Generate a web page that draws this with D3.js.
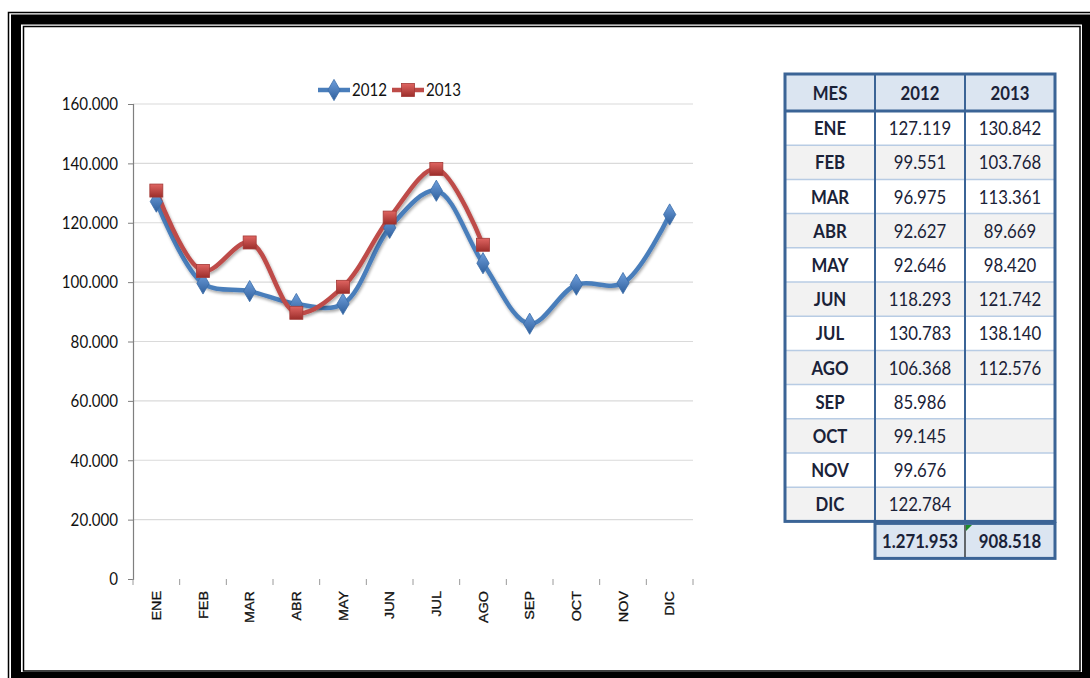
<!DOCTYPE html>
<html>
<head>
<meta charset="utf-8">
<script src="https://cdn.jsdelivr.net/npm/d3@7"></script>
<style>
  body { margin: 0; background: #fff; }
  svg { display: block; }
  .narrow { font-family: Lato, "Open Sans", sans-serif; }
</style>
</head>
<body>
<div id="chart"></div>
<script>
const months = ["ENE", "FEB", "MAR", "ABR", "MAY", "JUN", "JUL", "AGO", "SEP", "OCT", "NOV", "DIC"];
const values2012 = [127119, 99551, 96975, 92627, 92646, 118293, 130783, 106368, 85986, 99145, 99676, 122784];
const values2013 = [130842, 103768, 113361, 89669, 98420, 121742, 138140, 112576];
const yTicks = [0, 20000, 40000, 60000, 80000, 100000, 120000, 140000, 160000];
const seriesNames = ["2012", "2013"];

const W = 1090, H = 678;
const BLUE = "#4a7ebb", RED = "#be4b48";
const TABLE_BLUE = "#3b6496";

const loc = d3.formatLocale({ decimal: ",", thousands: ".", grouping: [3], currency: ["", ""] });
const fmt = loc.format(",d");

const svg = d3.select("#chart").append("svg")
  .attr("width", W).attr("height", H);

// frame
svg.append("rect").attr("x", 8.5).attr("y", 12.5).attr("width", 1100).attr("height", 700)
  .attr("fill", "none").attr("stroke", "#000").attr("stroke-width", 1.5);
svg.append("rect").attr("x", 16).attr("y", 19.5).attr("width", 1087 - 16).attr("height", 677 - 19.5)
  .attr("fill", "none").attr("stroke", "#000").attr("stroke-width", 10);
svg.append("rect").attr("x", 23.5).attr("y", 26.5).attr("width", 1080 - 23.5).attr("height", 671 - 26.5)
  .attr("fill", "none").attr("stroke", "#000").attr("stroke-width", 1.5);

// chart
const x = d3.scaleBand().domain(months).range([133, 693]).padding(0);
const y = d3.scaleLinear().domain([0, 160000]).range([579, 104]);
const cx = m => x(m) + x.bandwidth() / 2;

const g = svg.append("g");

g.append("g").selectAll("line").data(yTicks.filter(d => d > 0)).join("line")
  .attr("x1", 133).attr("x2", 693)
  .attr("y1", d => y(d)).attr("y2", d => y(d))
  .attr("stroke", "#dadada").attr("stroke-width", 1.2);

const yAxis = g.append("g").attr("transform", "translate(133,0)")
  .call(d3.axisLeft(y).tickValues(yTicks).tickSize(5).tickFormat(""));
yAxis.select(".domain").attr("stroke", "#7f7f7f").attr("stroke-width", 1.2);
yAxis.selectAll(".tick line").attr("stroke", "#7f7f7f");
g.append("g").selectAll("text").data(yTicks).join("text")
  .attr("class", "narrow")
  .attr("transform", d => `translate(118,${y(d)}) scale(0.84,1)`)
  .attr("text-anchor", "end").attr("dy", "0.35em")
  .attr("font-size", 18).attr("fill", "#111")
  .text(d => fmt(d));

const xAxis = g.append("g").attr("transform", "translate(0,579)");
xAxis.selectAll("line").data(d3.range(13)).join("line")
  .attr("x1", i => 133 + i * x.bandwidth()).attr("x2", i => 133 + i * x.bandwidth())
  .attr("y1", 0).attr("y2", 6)
  .attr("stroke", "#9a9a9a").attr("stroke-width", 1);
xAxis.selectAll("text").data(months).join("text")
  .attr("transform", d => `translate(${cx(d)},12) rotate(-90) scale(1.15,1)`)
  .attr("text-anchor", "end").attr("dy", "0.36em")
  .attr("font-family", "Arial, 'Liberation Sans', sans-serif")
  .attr("font-size", 12.5).attr("fill", "#111").attr("stroke", "#111").attr("stroke-width", 0.3)
  .text(d => d);

const line = d3.line().x(d => cx(d.m)).y(d => y(d.v)).curve(d3.curveCatmullRom.alpha(0.5));
const s2012 = values2012.map((v, i) => ({ m: months[i], v }));
const s2013 = values2013.map((v, i) => ({ m: months[i], v }));

// subtle shadows
const defs = svg.append("defs");
const f = defs.append("filter").attr("id", "sh").attr("x", "-20%").attr("y", "-20%").attr("width", "140%").attr("height", "140%");
f.append("feGaussianBlur").attr("in", "SourceAlpha").attr("stdDeviation", 1.5);
f.append("feOffset").attr("dx", 1).attr("dy", 2).attr("result", "b");
f.append("feComponentTransfer").append("feFuncA").attr("type", "linear").attr("slope", 0.35);
const fm = f.append("feMerge");
fm.append("feMergeNode");
fm.append("feMergeNode").attr("in", "SourceGraphic");

const gradB = defs.append("linearGradient").attr("id", "gb").attr("x1", 0).attr("y1", 0).attr("x2", 0).attr("y2", 1);
gradB.append("stop").attr("offset", 0).attr("stop-color", "#6f9fdc");
gradB.append("stop").attr("offset", 1).attr("stop-color", "#2f5f9c");
const gradR = defs.append("linearGradient").attr("id", "gr").attr("x1", 0).attr("y1", 0).attr("x2", 0).attr("y2", 1);
gradR.append("stop").attr("offset", 0).attr("stop-color", "#e06562");
gradR.append("stop").attr("offset", 1).attr("stop-color", "#9c2e2b");

g.append("path").datum(s2012).attr("d", line)
  .attr("fill", "none").attr("stroke", BLUE).attr("stroke-width", 4.5).attr("filter", "url(#sh)");
g.append("path").datum(s2013).attr("d", line)
  .attr("fill", "none").attr("stroke", RED).attr("stroke-width", 4.5).attr("filter", "url(#sh)");

const diamond = d3.symbol().type(d3.symbolDiamond).size(130);
g.append("g").selectAll("path").data(s2012).join("path")
  .attr("d", diamond)
  .attr("transform", d => `translate(${cx(d.m)},${y(d.v)})`)
  .attr("fill", "url(#gb)").attr("stroke", "#3a6ca8").attr("stroke-width", 0.8);
g.append("g").selectAll("rect").data(s2013).join("rect")
  .attr("x", d => cx(d.m) - 6.5).attr("y", d => y(d.v) - 6.5)
  .attr("width", 13).attr("height", 13)
  .attr("fill", "url(#gr)").attr("stroke", "#a33a37").attr("stroke-width", 0.8);

// legend
const leg = svg.append("g").attr("transform", "translate(318,90)");
[[0, BLUE, "2012"], [74, RED, "2013"]].forEach(([dx, col, name]) => {
  const it = leg.append("g").attr("transform", `translate(${dx},0)`);
  it.append("line").attr("x1", 0).attr("x2", 32).attr("stroke", col).attr("stroke-width", 4.5);
  if (name === seriesNames[0]) {
    it.append("path").attr("d", diamond).attr("transform", "translate(16,0)")
      .attr("fill", "url(#gb)").attr("stroke", "#3a6ca8").attr("stroke-width", 0.8);
  } else {
    it.append("rect").attr("x", 9.5).attr("y", -6.5).attr("width", 13).attr("height", 13)
      .attr("fill", "url(#gr)").attr("stroke", "#a33a37").attr("stroke-width", 0.8);
  }
  it.append("text").attr("class", "narrow").attr("transform", "translate(34,0) scale(0.84,1)")
    .attr("dy", "0.36em").attr("font-size", 18).attr("fill", "#111").text(name);
});

// table
const colX = [785, 875, 965, 1055];
const headY = 74, headH = 37, rowH = 34.2;
const bodyTop = headY + headH;
const bodyBottom = bodyTop + rowH * months.length;
const tg = svg.append("g");

tg.append("rect").attr("x", colX[0]).attr("y", headY).attr("width", colX[3] - colX[0]).attr("height", headH)
  .attr("fill", "#dbe5f1");
months.forEach((m, i) => {
  tg.append("rect").attr("x", colX[0]).attr("y", bodyTop + i * rowH)
    .attr("width", colX[3] - colX[0]).attr("height", rowH)
    .attr("fill", i % 2 === 0 ? "#ffffff" : "#f2f2f2");
});
// row separators
tg.selectAll("line.rs").data(d3.range(1, months.length)).join("line")
  .attr("x1", colX[0]).attr("x2", colX[3])
  .attr("y1", i => bodyTop + i * rowH).attr("y2", i => bodyTop + i * rowH)
  .attr("stroke", "#b8cce4").attr("stroke-width", 1.5);
// header bottom
tg.append("line").attr("x1", colX[0]).attr("x2", colX[3]).attr("y1", bodyTop).attr("y2", bodyTop)
  .attr("stroke", TABLE_BLUE).attr("stroke-width", 3);
// column lines
[colX[1], colX[2]].forEach(cxv => {
  tg.append("line").attr("x1", cxv).attr("x2", cxv).attr("y1", headY).attr("y2", bodyBottom)
    .attr("stroke", TABLE_BLUE).attr("stroke-width", 2);
});
tg.append("rect").attr("x", colX[0]).attr("y", headY).attr("width", colX[3] - colX[0]).attr("height", bodyBottom - headY)
  .attr("fill", "none").attr("stroke", TABLE_BLUE).attr("stroke-width", 3);

const cellText = (xc, yc, t, bold) => tg.append("text").attr("class", "narrow")
  .attr("transform", `translate(${xc},${yc}) scale(0.86,1)`)
  .attr("dy", "0.36em").attr("text-anchor", "middle")
  .attr("font-size", 19.5).attr("font-weight", bold ? "bold" : "normal").attr("fill", "#1a2238").text(t);

const mids = [0, 1, 2].map(i => (colX[i] + colX[i + 1]) / 2);
cellText(mids[0], headY + headH / 2, "MES", true);
cellText(mids[1], headY + headH / 2, seriesNames[0], true);
cellText(mids[2], headY + headH / 2, seriesNames[1], true);
months.forEach((m, i) => {
  const yc = bodyTop + i * rowH + rowH / 2;
  cellText(mids[0], yc, m, true);
  cellText(mids[1], yc, fmt(values2012[i]), false);
  if (i < values2013.length) cellText(mids[2], yc, fmt(values2013[i]), false);
});

// totals
const totY = bodyBottom + 2, totH = 35;
tg.append("rect").attr("x", colX[1]).attr("y", totY).attr("width", colX[3] - colX[1]).attr("height", totH)
  .attr("fill", "#dbe5f1").attr("stroke", TABLE_BLUE).attr("stroke-width", 3);
tg.append("line").attr("x1", colX[2]).attr("x2", colX[2]).attr("y1", totY + 1.5).attr("y2", totY + totH - 1.5)
  .attr("stroke", "#111").attr("stroke-width", 1.2);
tg.append("path").attr("d", `M${colX[2] + 1},${totY + 1.5}h6l-6,6z`).attr("fill", "#1e8c2a");
cellText(mids[1], totY + totH / 2, fmt(d3.sum(values2012)), true);
cellText(mids[2], totY + totH / 2, fmt(d3.sum(values2013)), true);
</script>
</body>
</html>
